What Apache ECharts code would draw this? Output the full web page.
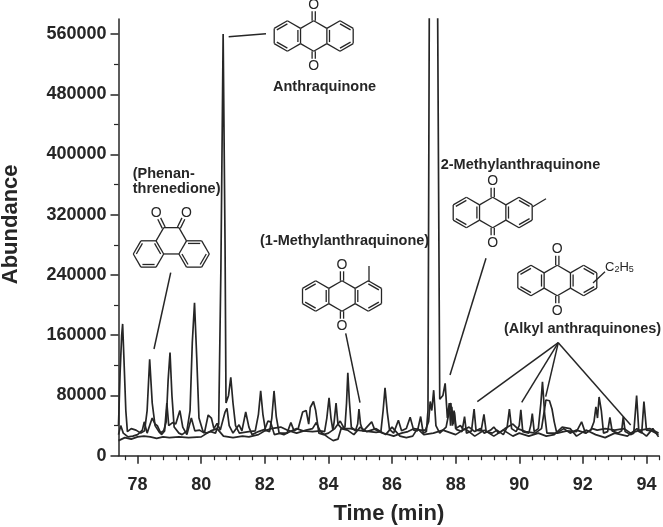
<!DOCTYPE html>
<html>
<head>
<meta charset="utf-8">
<style>
  html, body { margin: 0; padding: 0; background: #fff; }
  #chart { width: 663px; height: 527px; }
</style>
<script src="https://cdn.jsdelivr.net/npm/echarts@6/dist/echarts.min.js"></script>
</head>
<body>
<div id="chart"></div>
<script>
const xMajorTicks = [78, 80, 82, 84, 86, 88, 90, 92, 94]
const xMinorTicks = [77.6, 78.4, 78.8, 79.2, 79.6, 80.4, 80.8, 81.2, 81.6, 82.4, 82.8, 83.2, 83.6, 84.4, 84.8, 85.2, 85.6,
  86.4, 86.8, 87.2, 87.6, 88.4, 88.8, 89.2, 89.6, 90.4, 90.8, 91.2, 91.6, 92.4, 92.8, 93.2, 93.6, 94.4]
const yMajorTicks = [0, 80000, 160000, 240000, 320000, 400000, 480000, 560000]
const yMinorTicks = [40000, 120000, 200000, 280000, 360000, 440000, 520000]

// [time, abundance]
const traceA = [[77.40, 40000], [77.45, 110000], [77.50, 160000], [77.53, 175000], [77.57, 130000], [77.63, 60000], [77.68, 32000],
  [77.8, 36000], [77.95, 34000], [78.1, 30000], [78.22, 33000], [78.3, 60000], [78.38, 128000], [78.46, 70000], [78.55, 40000],
  [78.7, 30000], [78.82, 33000], [78.9, 45000], [78.96, 100000], [79.02, 137000], [79.08, 80000], [79.15, 38000], [79.3, 30000],
  [79.4, 28000], [79.55, 33000], [79.65, 60000], [79.72, 150000], [79.79, 203000], [79.86, 130000], [79.93, 50000], [80.05, 33000],
  [80.15, 30000], [80.3, 32000], [80.45, 30000], [80.55, 42000], [80.62, 250000], [80.69, 560000], [80.75, 280000], [80.78, 70000],
  [80.86, 80000], [80.93, 104000], [81.0, 70000], [81.08, 40000], [81.2, 30000], [81.5, 32000], [81.7, 33000], [81.8, 55000],
  [81.87, 86000], [81.94, 55000], [82.02, 34000], [82.15, 32000], [82.22, 50000], [82.29, 86000], [82.36, 52000], [82.45, 30000],
  [82.6, 28000], [82.8, 32000], [83, 36000], [83.2, 33000], [83.5, 32000], [83.75, 33000], [83.88, 32000], [83.95, 50000],
  [84.02, 77000], [84.08, 50000], [84.14, 34000], [84.18, 45000], [84.24, 70000], [84.3, 42000], [84.42, 36000], [84.52, 38000],
  [84.57, 70000], [84.61, 110000], [84.66, 72000], [84.72, 38000], [84.85, 33000], [84.92, 42000], [84.96, 62000], [85.01, 42000],
  [85.08, 33000], [85.3, 32000], [85.5, 31000], [85.65, 32000], [85.72, 60000], [85.78, 90000], [85.85, 58000], [85.92, 35000],
  [86.05, 30000], [86.2, 47000], [86.3, 33000], [86.45, 36000], [86.57, 51000], [86.68, 34000], [86.8, 33000], [86.9, 52000],
  [86.98, 30000], [87.08, 32000], [87.13, 60000], [87.18, 700000], [87.42, 700000], [87.5, 75000], [87.6, 80000], [87.67, 96000],
  [87.74, 50000], [87.8, 70000], [87.84, 40000], [87.88, 65000], [87.92, 42000], [87.96, 58000], [88.02, 35000], [88.2, 32000],
  [88.28, 52000], [88.34, 30000], [88.5, 33000], [88.58, 62000], [88.64, 34000], [88.8, 33000], [88.89, 55000], [88.96, 32000],
  [89.15, 30000], [89.3, 34000], [89.5, 28000], [89.62, 38000], [89.69, 62000], [89.76, 36000], [89.9, 32000], [90.0, 40000],
  [90.05, 61000], [90.11, 32000], [90.3, 30000], [90.36, 40000], [90.41, 56000], [90.47, 32000], [90.6, 36000], [90.68, 70000],
  [90.73, 98000], [90.8, 55000], [90.87, 30000], [91.2, 30000], [91.5, 33000], [91.8, 32000], [91.96, 45000], [92.08, 30000],
  [92.25, 34000], [92.35, 45000], [92.41, 65000], [92.46, 50000], [92.51, 78000], [92.58, 60000], [92.65, 30000], [92.78, 32000],
  [92.85, 51000], [92.92, 33000], [93.1, 30000], [93.22, 33000], [93.27, 52000], [93.33, 32000], [93.5, 28000], [93.6, 30000],
  [93.69, 80000], [93.76, 32000], [93.85, 30000], [93.92, 72000], [94, 34000], [94.15, 33000], [94.3, 30000], [94.38, 28000]]

const traceB = [[77.4, 28000], [77.47, 40000], [77.55, 30000], [77.7, 25000], [77.85, 26000], [78.0, 28000], [78.15, 34000], [78.21, 45000],
  [78.3, 30000], [78.38, 40000], [78.46, 50000], [78.55, 42000], [78.62, 40000], [78.75, 28000], [78.85, 33000], [78.92, 70000],
  [78.98, 40000], [79.1, 44000], [79.2, 42000], [79.33, 60000], [79.42, 38000], [79.55, 28000], [79.69, 50000], [79.8, 33000],
  [79.95, 34000], [80.1, 30000], [80.22, 54000], [80.32, 50000], [80.4, 36000], [80.5, 43000], [80.6, 34000], [80.75, 58000],
  [80.81, 63000], [80.88, 40000], [81, 30000], [81.19, 41000], [81.28, 33000], [81.4, 58000], [81.5, 38000], [81.6, 28000],
  [81.8, 32000], [82.0, 35000], [82.1, 46000], [82.18, 45000], [82.3, 28000], [82.5, 30000], [82.7, 30000], [82.82, 44000],
  [82.92, 33000], [83.05, 36000], [83.19, 58000], [83.3, 60000], [83.38, 42000], [83.43, 64000], [83.47, 62000], [83.53, 72000],
  [83.6, 60000], [83.7, 30000], [83.85, 28000], [84, 30000], [84.2, 36000], [84.37, 46000], [84.5, 36000], [84.7, 36000],
  [84.9, 34000], [85.1, 33000], [85.36, 45000], [85.45, 35000], [85.7, 30000], [85.9, 28000], [86.05, 26000], [86.3, 30000],
  [86.5, 32000], [86.7, 36000], [86.9, 34000], [87.05, 34000], [87.15, 45000], [87.2, 72000], [87.25, 60000], [87.31, 87000],
  [87.38, 40000], [87.5, 30000], [87.7, 38000], [87.85, 70000], [87.9, 40000], [87.95, 60000], [88.0, 36000], [88.15, 40000],
  [88.25, 34000], [88.42, 38000], [88.6, 32000], [88.78, 36000], [88.9, 30000], [89.1, 34000], [89.2, 38000], [89.35, 30000],
  [89.55, 36000], [89.8, 42000], [89.95, 36000], [90.2, 32000], [90.5, 30000], [90.7, 36000], [90.84, 74000], [90.95, 73000],
  [91.03, 62000], [91.1, 45000], [91.18, 30000], [91.4, 36000], [91.6, 30000], [91.8, 34000], [92.1, 30000], [92.3, 36000],
  [92.45, 34000], [92.7, 36000], [93.0, 34000], [93.3, 36000], [93.5, 30000], [93.8, 34000], [94.1, 36000], [94.38, 30000]]

const traceC = [[77.4, 20000], [77.6, 24000], [77.8, 22000], [78, 25000], [78.2, 26000], [78.4, 25000], [78.6, 23000], [78.8, 25000],
  [79, 24000], [79.3, 25000], [79.6, 24000], [80, 25000], [80.3, 33000], [80.5, 36000], [80.7, 26000], [81, 24000], [81.3, 26000],
  [81.5, 25000], [81.8, 28000], [82, 33000], [82.2, 36000], [82.5, 38000], [82.7, 34000], [83, 30000], [83.3, 34000], [83.5, 36000],
  [83.62, 44000], [83.75, 32000], [84, 24000], [84.15, 20000], [84.3, 22000], [84.4, 36000], [84.6, 34000], [84.8, 28000], [85, 38000],
  [85.2, 32000], [85.5, 36000], [85.8, 28000], [86, 38000], [86.25, 26000], [86.45, 24000], [86.65, 26000], [86.8, 36000], [87, 28000],
  [87.3, 30000], [87.6, 34000], [88, 28000], [88.3, 36000], [88.6, 26000], [88.9, 34000], [89.2, 26000], [89.5, 34000], [89.8, 26000],
  [90, 30000], [90.3, 26000], [90.6, 30000], [90.85, 26000], [91.1, 28000], [91.35, 38000], [91.6, 36000], [91.8, 26000], [92.1, 34000],
  [92.4, 28000], [92.7, 24000], [93, 30000], [93.4, 26000], [93.7, 36000], [94.0, 26000], [94.2, 36000], [94.38, 25000]]

const FONT = '"Liberation Sans", Arial, sans-serif'
const INK = '#262626'
const S3 = Math.sqrt(3)

let marks = []

function bond (x1, y1, x2, y2, w) {
  marks.push({type: 'line', silent: true, shape: {x1, y1, x2, y2}, style: {stroke: INK, lineWidth: w || 1.3}})
}

function label (text, x, y, size, weight, align) {
  marks.push({
    type: 'text', silent: true, x, y,
    style: {text, fill: INK, font: (weight || 'bold') + ' ' + size + 'px ' + FONT, align: align || 'left', verticalAlign: 'middle'},
  })
}

function ring (cx, cy, R, start, edges, doubles) {
  const v = []
  for (let i = 0; i < 6; i++) {
    const a = (start + 60 * i) * Math.PI / 180
    v.push([cx + R * Math.cos(a), cy + R * Math.sin(a)])
  }
  edges.forEach(i => {
    const p = v[i], q = v[(i + 1) % 6]
    bond(p[0], p[1], q[0], q[1])
  })
  doubles.forEach(i => {
    const p = v[i], q = v[(i + 1) % 6]
    const ip = [p[0] + (cx - p[0]) * 0.2, p[1] + (cy - p[1]) * 0.2]
    const iq = [q[0] + (cx - q[0]) * 0.2, q[1] + (cy - q[1]) * 0.2]
    bond(ip[0], ip[1], iq[0], iq[1])
  })
}

function carbonyl (x1, y1, ox, oy) {
  const dx = ox - x1, dy = oy - y1
  const len = Math.sqrt(dx * dx + dy * dy)
  const ux = dx / len, uy = dy / len
  const end = len - 7
  bond(x1 - uy * 1.6, y1 + ux * 1.6, x1 + ux * end - uy * 1.6, y1 + uy * end + ux * 1.6)
  bond(x1 + uy * 1.6, y1 - ux * 1.6, x1 + ux * end + uy * 1.6, y1 + uy * end - ux * 1.6)
  label('O', ox, oy + 0.5, 14, 'normal', 'center')
}

function anthraquinone (cx, cy, R) {
  ring(cx - S3 * R, cy, R, -90, [0, 1, 2, 3, 4, 5], [1, 3, 5])
  ring(cx + S3 * R, cy, R, -90, [0, 1, 2, 3, 4, 5], [0, 2, 4])
  ring(cx, cy, R, -90, [0, 2, 3, 5], [])
  carbonyl(cx, cy - R, cx, cy - R - 16.5)
  carbonyl(cx, cy + R, cx, cy + R + 14.5)
}

function phenanthrenedione (cx, cy, R) {
  const h = S3 * R / 2
  ring(cx - 1.5 * R, cy + h, R, 0, [0, 1, 2, 3, 4, 5], [1, 3, 5])
  ring(cx + 1.5 * R, cy + h, R, 0, [0, 1, 2, 3, 4, 5], [0, 2, 4])
  ring(cx, cy, R, 0, [1, 3, 4, 5], [])
  carbonyl(cx - R / 2, cy - h, cx - R, cy - h - 15.3)
  carbonyl(cx + R / 2, cy - h, cx + R, cy - h - 15.3)
}

anthraquinone(313.7, 36, 15.2)
anthraquinone(342, 296, 15.2)
anthraquinone(492.7, 212.5, 15.2)
anthraquinone(557.3, 280.5, 15.2)
phenanthrenedione(171.3, 240.8, 15.2)

// methyl and ethyl groups
bond(369, 282, 369, 266)
bond(532.7, 206.7, 546, 198.7)
bond(593, 283, 605, 271.7)

// leader lines
bond(228.7, 36.7, 266, 33.7, 1.5)
bond(170.7, 272.7, 154, 349, 1.5)
bond(345.7, 333.3, 360, 402.7, 1.5)
bond(486, 258.3, 450, 375, 1.5)
bond(558.3, 342.7, 477.3, 401.7, 1.5)
bond(558.3, 342.7, 521.7, 402.3, 1.5)
bond(558.3, 342.7, 545.7, 396.7, 1.5)
bond(558.3, 342.7, 630.7, 425, 1.5)

label('Anthraquinone', 273, 87, 14.5)
label('(Phenan-', 132.7, 174, 14.5)
label('threnedione)', 132.7, 188.7, 14.5)
label('(1-Methylanthraquinone)', 260, 240.7, 14.5)
label('2-Methylanthraquinone', 440.7, 165, 14.5)
label('(Alkyl anthraquinones)', 504, 329, 14.5)

marks.push({
  type: 'text', silent: true, x: 605, y: 267,
  style: {
    text: 'C{s|2}H{s|5}',
    fill: INK,
    font: 'normal 13px ' + FONT,
    verticalAlign: 'middle',
    rich: {s: {font: 'normal 9px ' + FONT, fill: INK, padding: [6, 0, 0, 0]}},
  },
})

function majorAxis (values, margin, extra) {
  return Object.assign({
    type: 'value',
    nameMoveOverlap: false,
    axisLine: {onZero: false, lineStyle: {color: INK, width: 1.5}},
    axisTick: {length: 8, customValues: values, lineStyle: {color: INK, width: 1.5}},
    axisLabel: {customValues: values, margin, color: INK, fontFamily: FONT, fontWeight: 'bold', fontSize: 18, formatter: v => String(v)},
    splitLine: {show: false},
  }, extra)
}

function minorAxis (values, extra) {
  return Object.assign({
    type: 'value',
    axisLine: {show: false},
    axisTick: {length: 4.5, customValues: values, lineStyle: {color: INK, width: 1.2}},
    axisLabel: {show: false},
    splitLine: {show: false},
  }, extra)
}

function trace (data) {
  return {
    type: 'line',
    data,
    showSymbol: false,
    smooth: false,
    clip: true,
    animation: false,
    lineStyle: {color: INK, width: 1.7},
  }
}

const chart = echarts.init(document.getElementById('chart'), null, {renderer: 'canvas'})
chart.setOption({
  animation: false,
  backgroundColor: '#fff',
  grid: {left: 118.5, right: 3.8, top: 19, bottom: 71.3, outerBoundsMode: 'none', containLabel: false},
  xAxis: [
    majorAxis(xMajorTicks, 20, {
      min: 77.4, max: 94.4, position: 'bottom',
      name: 'Time (min)', nameLocation: 'middle', nameGap: 47,
      nameTextStyle: {color: INK, fontFamily: FONT, fontWeight: 'bold', fontSize: 22},
    }),
    minorAxis(xMinorTicks, {min: 77.4, max: 94.4, position: 'bottom'}),
  ],
  yAxis: [
    majorAxis(yMajorTicks, 12, {
      min: 0, max: 580000, position: 'left',
      name: 'Abundance', nameLocation: 'middle', nameGap: 97,
      nameTextStyle: {color: INK, fontFamily: FONT, fontWeight: 'bold', fontSize: 22, padding: [0, 0, 0, 26]},
    }),
    minorAxis(yMinorTicks, {min: 0, max: 580000, position: 'left'}),
  ],
  series: [trace(traceC), trace(traceB), trace(traceA)],
  graphic: marks,
})
</script>
</body>
</html>
